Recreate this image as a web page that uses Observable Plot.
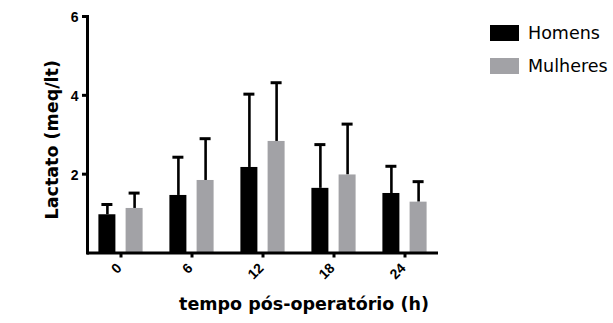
<!DOCTYPE html>
<html>
<head>
<meta charset="utf-8">
<script src="https://cdn.jsdelivr.net/npm/d3@7"></script>
<script src="https://cdn.jsdelivr.net/npm/@observablehq/plot@0.6"></script>
<style>
  html, body { margin: 0; padding: 0; background: #fff; }
  #wrap { position: relative; width: 613px; height: 323px; }
  #legend { position: absolute; left: 490px; top: 25px; font-family: "DejaVu Sans", sans-serif; font-size: 17.5px; color: #000; }
  .row { display: flex; align-items: center; height: 16px; margin-bottom: 17px; }
  .sw { width: 29px; height: 16px; margin-right: 9px; }
</style>
</head>
<body>
<div id="wrap"><div id="legend"></div></div>
<script>
const groups = ["0", "6", "12", "18", "24"];
const seriesNames = ["Homens", "Mulheres"];
const seriesColors = ["#000000", "#a2a2a6"];
const homensMean = [0.97, 1.46, 2.17, 1.64, 1.51];
const homensSD = [0.26, 0.97, 1.86, 1.11, 0.69];
const mulheresMean = [1.13, 1.84, 2.83, 1.98, 1.29];
const mulheresSD = [0.39, 1.06, 1.49, 1.29, 0.52];
const yTicks = [2, 4, 6];
const yLabel = "Lactato (meq/lt)";
const xLabel = "tempo pós-operatório (h)";

const series = [
  {name: seriesNames[0], color: seriesColors[0], mean: homensMean, sd: homensSD, dx: -13.6},
  {name: seriesNames[1], color: seriesColors[1], mean: mulheresMean, sd: mulheresSD, dx: 13.6}
];

const marks = [];
for (const s of series) {
  const rows = groups.map((g, i) => ({group: g, mean: s.mean[i], top: s.mean[i] + s.sd[i]}));
  marks.push(Plot.ruleX(rows, {x: "group", y1: "mean", y2: "top", dx: s.dx, stroke: "#000", strokeWidth: 2.6}));
  marks.push(Plot.tickY(rows, {x: "group", y: "top", dx: s.dx, insetLeft: 3, insetRight: 3, stroke: "#000", strokeWidth: 3}));
  marks.push(Plot.barY(rows, {x: "group", y: "mean", dx: s.dx, fill: s.color}));
}

const tickFont = "'Liberation Sans', Arial, sans-serif";
const titleFont = "'DejaVu Sans', sans-serif";

const chart = Plot.plot({
  width: 613,
  height: 323,
  marginLeft: 87,
  marginRight: 175,
  marginTop: 16,
  marginBottom: 70.5,
  style: {fontFamily: tickFont, background: "#fff", color: "#000"},
  x: {domain: groups, paddingInner: 0.757, paddingOuter: 0.3195, axis: null},
  y: {domain: [0, 6], axis: null},
  marks: [
    ...marks,
    Plot.ruleY([0], {stroke: "#000", strokeWidth: 3}),
    Plot.frame({anchor: "left", stroke: "#000", strokeWidth: 3}),
    Plot.axisY(yTicks, {tickSize: 5, strokeWidth: 3, tickFormat: () => "", label: null}),
    Plot.axisX({tickSize: 5, strokeWidth: 3, tickFormat: () => "", label: null}),
    Plot.text(yTicks, {y: d => d, text: d => String(d), frameAnchor: "left", dx: -9, dy: 1.5, textAnchor: "end", fontSize: 14, fontWeight: "bold", fontFamily: tickFont}),
    Plot.text(groups, {x: d => d, text: d => d, frameAnchor: "bottom", rotate: -45, dx: 1.5, dy: 16, textAnchor: "end", fontSize: 14, fontWeight: "bold", fontFamily: tickFont}),
    Plot.text([yLabel], {frameAnchor: "left", rotate: -90, dx: -35, dy: 5, fontSize: 17.5, fontWeight: "bold", fontFamily: titleFont, textAnchor: "middle"}),
    Plot.text([xLabel], {frameAnchor: "bottom", dx: 41, dy: 57, fontSize: 17.5, fontWeight: "bold", fontFamily: titleFont, textAnchor: "middle"})
  ]
});
const wrap = document.getElementById("wrap");
wrap.insertBefore(chart, wrap.firstChild);

const legend = document.getElementById("legend");
series.forEach(s => {
  const row = document.createElement("div");
  row.className = "row";
  const sw = document.createElement("div");
  sw.className = "sw";
  sw.style.background = s.color;
  const t = document.createElement("span");
  t.textContent = s.name;
  row.appendChild(sw);
  row.appendChild(t);
  legend.appendChild(row);
});
</script>
</body>
</html>
